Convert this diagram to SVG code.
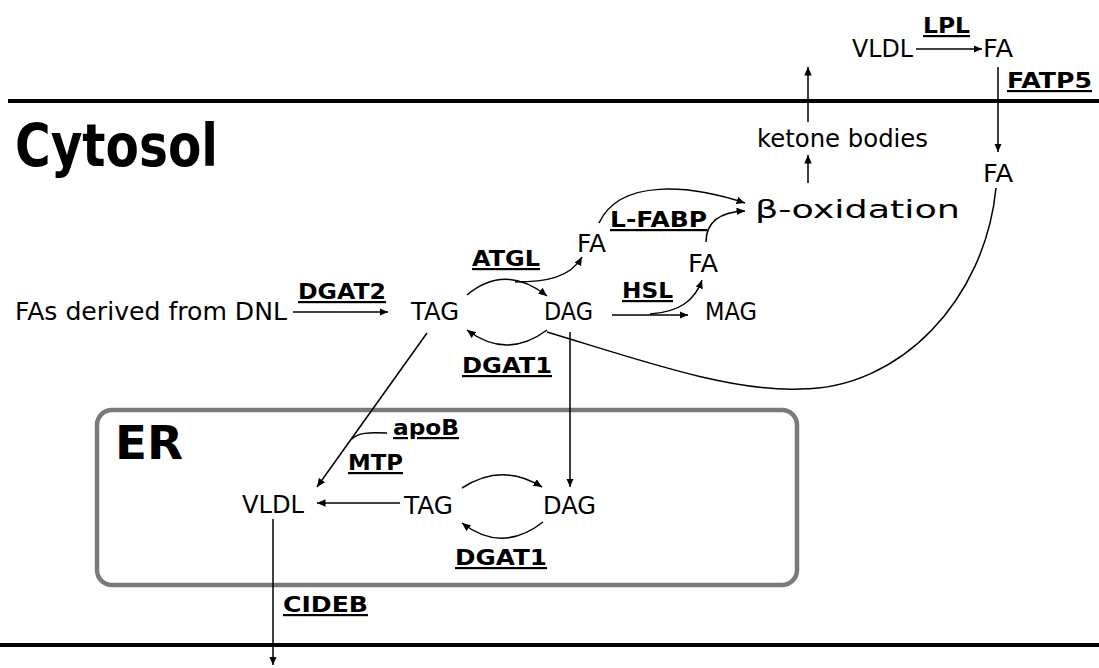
<svg xmlns="http://www.w3.org/2000/svg" width="1099" height="668" viewBox="0 0 1099 668">
<style>
.t{font-family:"DejaVu Sans",Verdana,sans-serif;font-size:25px;fill:#000}
.b{font-family:"DejaVu Sans",Verdana,sans-serif;font-size:22px;font-weight:bold;fill:#000;text-decoration:underline}
.h{font-family:"DejaVu Sans",Verdana,sans-serif;font-weight:bold;fill:#000}
.c{fill:none;stroke:#000;stroke-width:1.5}
.a{marker-end:url(#arr)}
.mem{stroke:#000;stroke-width:4}
</style>
<defs>
<marker id="arr" markerUnits="userSpaceOnUse" markerWidth="10" markerHeight="8" refX="8.5" refY="3.75" orient="auto">
<path d="M0,0 L8.5,3.75 L0,7.5 z" fill="#000"/>
</marker>
</defs>
<rect width="1099" height="668" fill="#fff"/>
<g id="membranes">
<line class="mem" x1="8" y1="101" x2="1099" y2="101"/>
<line class="mem" x1="0" y1="645" x2="1099" y2="645"/>
</g>
<g id="er-box">
<rect x="97" y="410" width="700" height="175" rx="15" ry="15" fill="none" stroke="#7a7a7a" stroke-width="4.5"/>
<text class="h" x="115" y="459" font-size="46" textLength="68" lengthAdjust="spacingAndGlyphs">ER</text>
</g>
<g id="cytosol-label"><text class="h" x="15" y="166" font-size="58" textLength="203" lengthAdjust="spacingAndGlyphs">Cytosol</text></g>
<g id="connectors">
<path class="c a" d="M916 49 L982 49"/>
<path class="c a" d="M998 67 L998 152"/>
<path class="c a" d="M808 122 L808 67"/>
<path class="c a" d="M808 183 L808 155"/>
<path class="c a" d="M293 312 L388 312"/>
<path class="c a" d="M467 295 Q505 263 547 296"/>
<path class="c a" d="M515 282 C545 282 570 278 582 257"/>
<path class="c a" d="M547 330 Q507 360 467 330"/>
<path class="c" d="M996 188 C985 300 900 389 800 389 C730 392 640 360 547 332"/>
<path class="c a" d="M599 223 C620 178 690 185 745 203"/>
<path class="c a" d="M706 242 C706 222 720 212 745 211"/>
<path class="c a" d="M612 315 L688 315"/>
<path class="c a" d="M650 314 C680 312 695 300 702 280"/>
<path class="c a" d="M427 333 L317 487"/>
<path class="c" d="M387 433 C368 432 358 433 352 439"/>
<path class="c a" d="M570 332 L570 487"/>
<path class="c a" d="M400 503 L317 503"/>
<path class="c a" d="M462 488 Q502 462 542 487"/>
<path class="c a" d="M543 522 Q502 554 462 523"/>
<path class="c a" d="M273 519 L273 665"/>
</g>
<g id="n-vldl-out"><text class="t" x="852" y="57" textLength="61" lengthAdjust="spacingAndGlyphs">VLDL</text></g>
<g id="n-fa-out"><text class="t" x="983" y="57" textLength="30" lengthAdjust="spacingAndGlyphs">FA</text></g>
<g id="l-lpl"><text class="b" x="923" y="33" textLength="47" lengthAdjust="spacingAndGlyphs">LPL</text></g>
<g id="l-fatp5"><text class="b" x="1007" y="88" textLength="85" lengthAdjust="spacingAndGlyphs">FATP5</text></g>
<g id="n-ketone"><text class="t" x="757" y="147" font-size="23" textLength="171" lengthAdjust="spacingAndGlyphs">ketone bodies</text></g>
<g id="n-fa-in"><text class="t" x="983" y="182" textLength="30" lengthAdjust="spacingAndGlyphs">FA</text></g>
<g id="n-boxidation"><text class="t" x="755" y="218" font-size="39" textLength="205" lengthAdjust="spacingAndGlyphs">β-oxidation</text></g>
<g id="n-fa1"><text class="t" x="577" y="252" textLength="29" lengthAdjust="spacingAndGlyphs">FA</text></g>
<g id="l-lfabp"><text class="b" x="610" y="227" textLength="97" lengthAdjust="spacingAndGlyphs">L-FABP</text></g>
<g id="n-fa2"><text class="t" x="688" y="272" textLength="30" lengthAdjust="spacingAndGlyphs">FA</text></g>
<g id="l-hsl"><text class="b" x="622" y="298" textLength="51" lengthAdjust="spacingAndGlyphs">HSL</text></g>
<g id="n-mag"><text class="t" x="705" y="320" textLength="52" lengthAdjust="spacingAndGlyphs">MAG</text></g>
<g id="l-atgl"><text class="b" x="472" y="266" textLength="68" lengthAdjust="spacingAndGlyphs">ATGL</text></g>
<g id="n-dnl"><text class="t" x="15" y="320" textLength="272" lengthAdjust="spacingAndGlyphs">FAs derived from DNL</text></g>
<g id="l-dgat2"><text class="b" x="298" y="299" textLength="88" lengthAdjust="spacingAndGlyphs">DGAT2</text></g>
<g id="n-tag"><text class="t" x="411" y="320" textLength="48" lengthAdjust="spacingAndGlyphs">TAG</text></g>
<g id="n-dag"><text class="t" x="544" y="320" textLength="49" lengthAdjust="spacingAndGlyphs">DAG</text></g>
<g id="l-dgat1"><text class="b" x="462" y="373" textLength="90" lengthAdjust="spacingAndGlyphs">DGAT1</text></g>
<g id="l-apob"><text class="b" x="393" y="435" textLength="66" lengthAdjust="spacingAndGlyphs">apoB</text></g>
<g id="l-mtp"><text class="b" x="348" y="470" textLength="55" lengthAdjust="spacingAndGlyphs">MTP</text></g>
<g id="n-er-vldl"><text class="t" x="242" y="513" textLength="62" lengthAdjust="spacingAndGlyphs">VLDL</text></g>
<g id="n-er-tag"><text class="t" x="404" y="514" textLength="49" lengthAdjust="spacingAndGlyphs">TAG</text></g>
<g id="n-er-dag"><text class="t" x="543" y="514" textLength="53" lengthAdjust="spacingAndGlyphs">DAG</text></g>
<g id="l-er-dgat1"><text class="b" x="455" y="565" textLength="92" lengthAdjust="spacingAndGlyphs">DGAT1</text></g>
<g id="l-cideb"><text class="b" x="283" y="612" textLength="85" lengthAdjust="spacingAndGlyphs">CIDEB</text></g>
</svg>
